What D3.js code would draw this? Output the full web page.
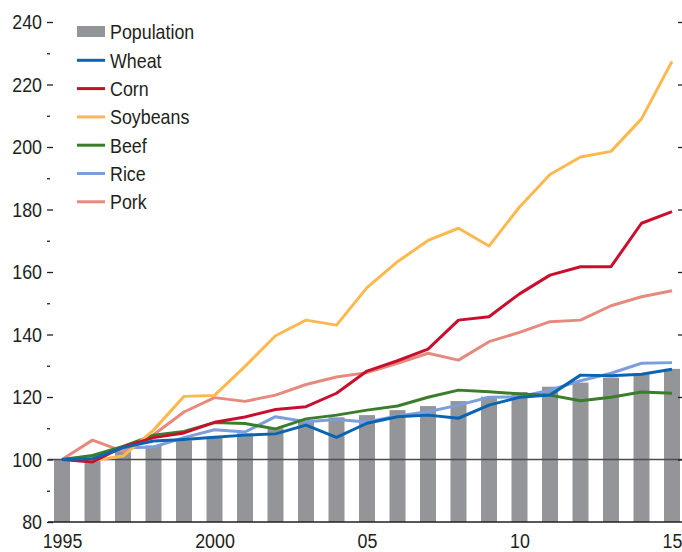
<!DOCTYPE html>
<html>
<head>
<meta charset="utf-8">
<script src="https://cdn.jsdelivr.net/npm/d3@7"></script>
<style>
  html, body { margin: 0; padding: 0; background: #fff; }
  svg { display: block; }
  text { font-family: "Liberation Sans", Arial, sans-serif; fill: #231f20; }
</style>
</head>
<body>
<svg id="chart" width="682" height="552"></svg>
<script>
const years = d3.range(1995, 2016);
const xTickLabels = {1995: "1995", 2000: "2000", 2005: "05", 2010: "10", 2015: "15"};
const yMajorTicks = [80, 100, 120, 140, 160, 180, 200, 220, 240];
const yMinorTicks = [90, 110, 130, 150, 170, 190, 210, 230];

const population = [100, 101.4, 103.0, 104.5, 106.1, 107.3, 108.4, 110.0, 112.0, 113.5, 114.2, 115.8, 117.1, 118.7, 120.1, 121.6, 123.3, 124.6, 126.2, 127.4, 129.0];
const wheat    = [100, 100.2, 103.8, 105.9, 106.4, 107.1, 107.8, 108.2, 111.0, 107.1, 111.6, 113.7, 114.2, 113.2, 117.4, 119.9, 120.6, 127.0, 126.8, 127.3, 128.9];
const corn     = [100, 99.2, 104.0, 107.0, 108.5, 111.9, 113.6, 116.0, 116.9, 121.2, 128.3, 131.6, 135.3, 144.6, 145.7, 153.0, 159.0, 161.7, 161.7, 175.6, 179.3];
const soybeans = [100, 99.7, 101.1, 109.4, 120.2, 120.5, 129.8, 139.6, 144.6, 143.0, 155.0, 163.3, 170.1, 174.0, 168.3, 180.8, 191.2, 196.8, 198.6, 209.0, 227.4];
const beef     = [100, 101.3, 104.2, 107.8, 109.0, 111.8, 111.5, 109.8, 113.0, 114.2, 115.8, 117.1, 119.9, 122.2, 121.7, 121.0, 120.6, 118.8, 119.9, 121.6, 121.2];
const rice     = [100, 100.2, 103.7, 104.0, 107.0, 109.5, 108.8, 113.7, 112.1, 112.8, 112.0, 113.9, 115.3, 117.4, 119.9, 120.1, 122.2, 125.2, 127.6, 130.8, 131.0];
const pork     = [100, 106.2, 102.6, 107.9, 115.2, 119.8, 118.6, 120.6, 124.0, 126.4, 127.8, 130.8, 134.0, 131.8, 137.7, 140.7, 144.1, 144.6, 149.2, 152.1, 154.0];

const seriesNames = ["Wheat", "Corn", "Soybeans", "Beef", "Rice", "Pork"];
const seriesValues = {Wheat: wheat, Corn: corn, Soybeans: soybeans, Beef: beef, Rice: rice, Pork: pork};
const colors = {Population: "#939598", Wheat: "#0a64b4", Corn: "#c8102e", Soybeans: "#fdb94f", Beef: "#3a7d2b", Rice: "#7c9fdc", Pork: "#e58a7c"};
const drawOrder = ["Pork", "Rice", "Beef", "Soybeans", "Corn", "Wheat"];

const narrow = 0.85;
const fontSize = 21;

const svg = d3.select("#chart");
const x = d3.scalePoint().domain(years).range([62, 672]);
const y = d3.scaleLinear().domain([80, 240]).range([522, 22]);
const barW = 16;

// condense a text element horizontally around its anchor
function condense(sel) {
  sel.each(function () {
    const t = d3.select(this);
    const tx = +t.attr("x") || 0;
    t.attr("x", 0).attr("transform", `translate(${tx},0) scale(${narrow},1)`);
  });
}

// bars
svg.append("g").selectAll("rect").data(years).join("rect")
  .attr("x", d => x(d) - barW / 2)
  .attr("width", barW)
  .attr("y", (d, i) => y(population[i]))
  .attr("height", (d, i) => y(80) - y(population[i]))
  .attr("fill", colors.Population);

// reference line at 100
svg.append("line").attr("x1", 48).attr("x2", 682).attr("y1", y(100)).attr("y2", y(100))
  .attr("stroke", "#4d4d4f").attr("stroke-width", 1.3);

// lines
const line = d3.line().x((d, i) => x(years[i])).y(d => y(d));
drawOrder.forEach(name => {
  svg.append("path").datum(seriesValues[name])
    .attr("d", line).attr("fill", "none")
    .attr("stroke", colors[name]).attr("stroke-width", 3)
    .attr("stroke-linejoin", "round");
});

// bottom axis line
svg.append("line").attr("x1", 48).attr("x2", 682).attr("y1", y(80)).attr("y2", y(80))
  .attr("stroke", "#231f20").attr("stroke-width", 1.5);

// left axis
const yAxisMajor = svg.append("g").attr("transform", "translate(53,0)")
  .call(d3.axisLeft(y).tickValues(yMajorTicks).tickSize(6).tickPadding(5));
yAxisMajor.select(".domain").remove();
yAxisMajor.selectAll("line").attr("stroke", "#231f20").attr("stroke-width", 1.3);
yAxisMajor.selectAll("text").attr("font-size", fontSize).attr("font-family", null).style("fill", "#231f20").call(condense);

const yAxisMinor = svg.append("g").attr("transform", "translate(50,0)")
  .call(d3.axisLeft(y).tickValues(yMinorTicks).tickSize(3).tickFormat(""));
yAxisMinor.select(".domain").remove();
yAxisMinor.selectAll("line").attr("stroke", "#231f20").attr("stroke-width", 1.3);

// right ticks
const yAxisRight = svg.append("g").attr("transform", "translate(678,0)")
  .call(d3.axisRight(y).tickValues(yMajorTicks.filter(v => v > 80)).tickSize(4).tickFormat(""));
yAxisRight.select(".domain").remove();
yAxisRight.selectAll("line").attr("stroke", "#231f20").attr("stroke-width", 1.3);

// x axis labels
const xAxis = svg.append("g").attr("transform", `translate(0,${y(80)})`)
  .call(d3.axisBottom(x).tickValues(Object.keys(xTickLabels).map(Number)).tickSize(0).tickPadding(10)
    .tickFormat(d => xTickLabels[d]));
xAxis.select(".domain").remove();
xAxis.selectAll("text").attr("font-size", fontSize).attr("font-family", null).attr("dy", "0.75em").style("fill", "#231f20").call(condense);

// legend
const legendItems = ["Population"].concat(seriesNames);
const lg = svg.append("g");
legendItems.forEach((name, i) => {
  const cy = 32 + i * 28.3;
  if (name === "Population") {
    lg.append("rect").attr("x", 77).attr("y", cy - 6).attr("width", 28).attr("height", 11).attr("fill", colors[name]);
  } else {
    lg.append("line").attr("x1", 77).attr("x2", 105).attr("y1", cy).attr("y2", cy)
      .attr("stroke", colors[name]).attr("stroke-width", 3);
  }
  lg.append("text").attr("x", 110).attr("y", cy).attr("dy", "0.35em").attr("font-size", fontSize).text(name).call(condense);
});
</script>
</body>
</html>
